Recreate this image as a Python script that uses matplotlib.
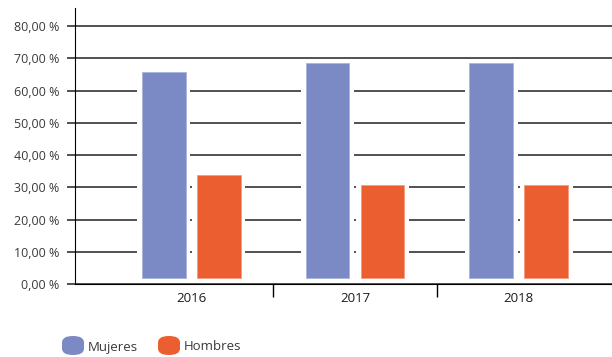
import matplotlib.pyplot as plt
from matplotlib.patches import FancyBboxPatch

# datos
anios = ['2016', '2017', '2018']
mujeres = [65.8, 68.6, 68.6]
hombres = [33.9, 30.6, 30.6]
yticks = [0, 10, 20, 30, 40, 50, 60, 70, 80]
ylabels = ['0,00 %', '10,00 %', '20,00 %', '30,00 %', '40,00 %',
           '50,00 %', '60,00 %', '70,00 %', '80,00 %']

azul = '#7B8AC4'
naranja = '#EB5E30'
gris = '#3A3A3A'

plt.rcParams['font.family'] = ['Open Sans', 'DejaVu Sans']

fig = plt.figure(figsize=(6.12, 3.57), dpi=100)
ax = fig.add_axes([75/612, 73/357, 537/612, 276/357])

x = list(range(len(anios)))
off = 0.168
ancho = 0.268
halo = 0.323
base = 1.8

# halo blanco que corta la grilla alrededor de las barras
ax.bar([i - off for i in x], [v - 1 for v in mujeres], bottom=1, width=halo, color='white', zorder=2)
ax.bar([i + off for i in x], [v - 1 for v in hombres], bottom=1, width=halo, color='white', zorder=2)
ax.bar([i - off for i in x], [v - base for v in mujeres], bottom=base, width=ancho,
       color=azul, edgecolor='#A9B3DD', linewidth=0.6, zorder=3)
ax.bar([i + off for i in x], [v - base for v in hombres], bottom=base, width=ancho,
       color=naranja, edgecolor='#F49A7C', linewidth=0.6, zorder=3)

ax.set_xlim(-0.71, 2.57)
ax.set_ylim(0, 85.6)
ax.set_yticks(yticks)
ax.set_yticklabels(ylabels, color=gris, fontsize=9)
ax.yaxis.grid(True, color='#333333', linewidth=1.2, zorder=1)
ax.set_axisbelow(True)
ax.tick_params(axis='y', length=6, width=1.2, color='#333333', pad=5)

ax.set_xticks(x)
ax.set_xticklabels(anios, color='#1A1A1A', fontsize=9.5)
ax.tick_params(axis='x', which='major', length=0, pad=6)
ax.set_xticks([0.5, 1.5], minor=True)
ax.tick_params(axis='x', which='minor', length=9, width=1, color='black')

for s in ['top', 'right']:
    ax.spines[s].set_visible(False)
ax.spines['left'].set_color('black')
ax.spines['bottom'].set_color('black')
ax.spines['left'].set_zorder(5)
ax.spines['bottom'].set_zorder(5)

# leyenda
W, H = 612.0, 357.0
for px, col, txt in [(62, azul, 'Mujeres'), (158, naranja, 'Hombres')]:
    p = FancyBboxPatch((px/W, 2/H), 22/W, 19/H,
                       boxstyle='round,pad=0,rounding_size=0.018',
                       transform=fig.transFigure, facecolor=col, edgecolor='none')
    fig.patches.append(p)
    fig.text((px + 26)/W, 10/H, txt, color=gris, fontsize=9.5, va='center')

plt.savefig('out.png', dpi=100)
plt.close()
